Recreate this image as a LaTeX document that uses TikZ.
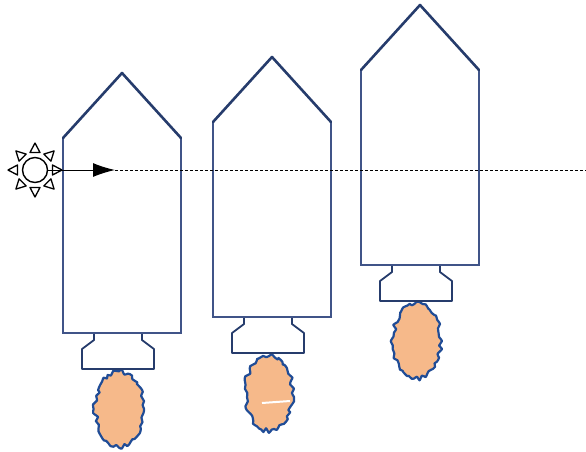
\documentclass[tikz,border=0pt]{standalone}
\usetikzlibrary{arrows.meta}

\definecolor{hull}{RGB}{38,60,108}
\definecolor{hullside}{RGB}{64,84,136}
\definecolor{exhaust}{RGB}{246,185,138}
\definecolor{exhaustline}{RGB}{32,76,150}

\tikzset{
  nose/.style={hull,line width=2.6pt,line join=round,line cap=round},
  hullline/.style={hullside,line width=1.8pt},
  nozzle/.style={hull,line width=1.8pt,fill=white,line join=round},
  flame/.style={exhaustline,line width=2.2pt,fill=exhaust,line join=round},
  ray/.style={black,line width=1.3pt,fill=white,line join=round}
}

\begin{document}
\begin{tikzpicture}[x=1pt,y=-1pt]
\useasboundingbox (0,0) rectangle (586,451);
\pgfmathsetseed{11}

% three rockets, body top-left corner given
\foreach \rx/\ry in {63/138,213/122,361/70}{
\begin{scope}[shift={(\rx,\ry)}]
  \draw[flame] plot[smooth cycle,samples=56,domain=0:353.5]
    ({56+(24+2.6*rand)*cos(\x)},{271+(38+2.6*rand)*sin(\x)});
  \draw[nozzle] (31,195) -- (31,202) -- (19,211) -- (19,231)
    -- (91,231) -- (91,211) -- (79,202) -- (79,195);
  \draw[hullline,fill=white] (0,0) -- (0,195) -- (118,195) -- (118,0);
  \draw[nose] (0,0) -- (59,-65) -- (118,0);
\end{scope}
}
\draw[white,line width=2pt] (262,403) -- (290,401);

% sun and line of sight
\node[circle,draw,line width=1.4pt,minimum size=25pt,inner sep=0pt] (sun) at (35,170) {};
\foreach \a in {0,45,...,315}
  \draw[ray,shift={(sun)},rotate=\a] (17.5,-5) -- (27,0) -- (17.5,5) -- cycle;

\coordinate (aim) at (115,170);
\coordinate (edge) at (586,170);
\draw[line width=1pt,-{Latex[length=22pt,width=14pt]}] (sun.east) -- (aim);
\draw[densely dashed,line width=0.6pt] (aim) -- (edge);

\end{tikzpicture}
\end{document}
